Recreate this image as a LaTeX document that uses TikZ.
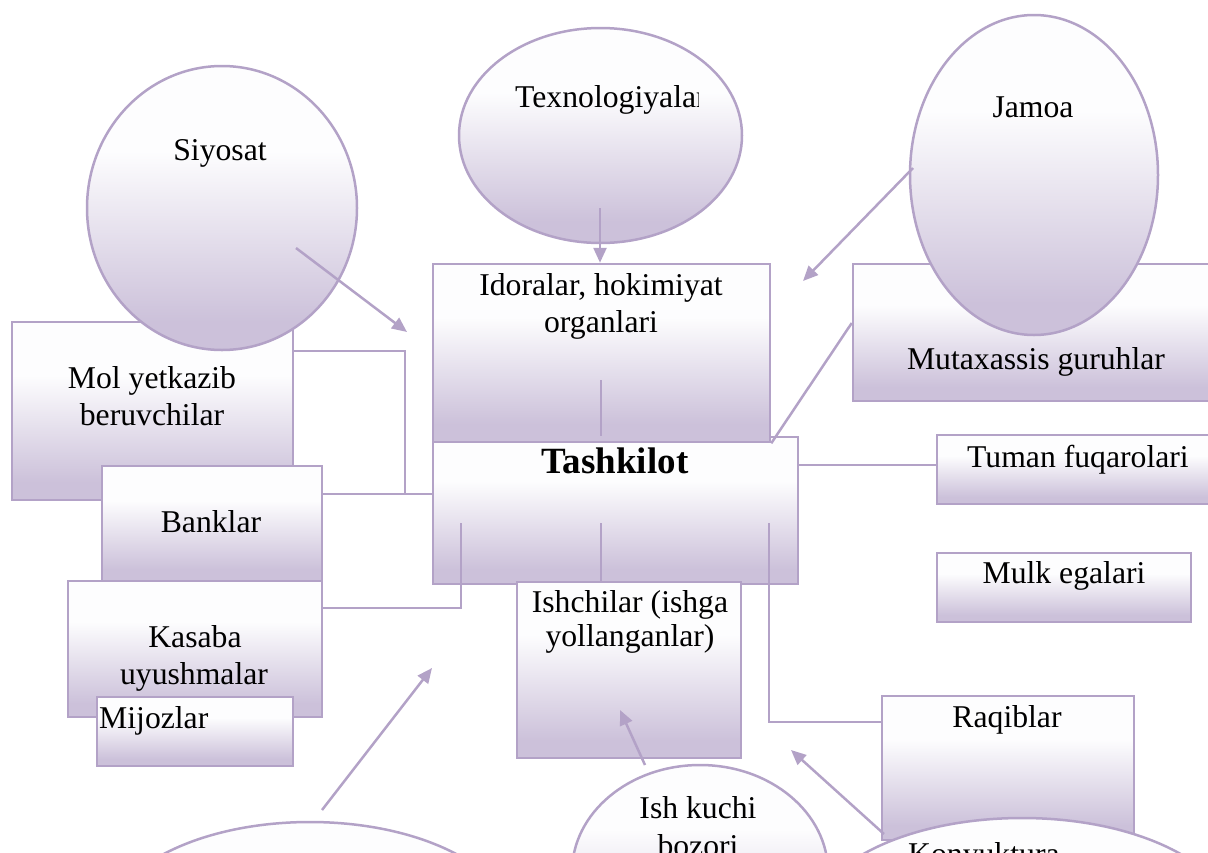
\documentclass[tikz,border=0pt]{standalone}
\usepackage{fontspec}
\setmainfont{Liberation Serif}
\usetikzlibrary{shapes.geometric,arrows.meta}
\definecolor{lavline}{HTML}{B3A2C7}
\definecolor{lavfill}{HTML}{CCC1DA}
\definecolor{topwhite}{HTML}{FDFDFE}
% light-to-lavender vertical gradient used by every shape
\pgfdeclareverticalshading{wordgrad}{100bp}{color(0bp)=(lavfill); color(30bp)=(lavfill); color(60bp)=(topwhite); color(100bp)=(topwhite)}
\tikzset{
  shapebase/.style={draw=lavline, line width=2.5pt, shade, shading=wordgrad, inner sep=0pt},
  box/.style={shapebase, rectangle},
  oval/.style={shapebase, ellipse},
  txt/.style={inner sep=0pt, anchor=base, font=\fontsize{31.7}{36.5}\selectfont},
  conn/.style={draw=lavline, line width=2.5pt},
  arr/.style={conn, -{Triangle[length=15pt,width=13pt]}},
}
\begin{document}
\begin{tikzpicture}[x=1pt,y=-1pt]
\path[use as bounding box] (0,0) rectangle (1208,852);
\clip (0,0) rectangle (1208,852);

% left column
\node[box, minimum width=281pt, minimum height=178pt] (mol) at (152.5,411) {};
\node[txt] (mol-a) at (152,388) {Mol yetkazib};
\node[txt] (mol-b) at (152,425) {beruvchilar};
\node[oval, minimum width=270pt, minimum height=284pt] (siyo) at (222,208) {};
\node[txt] (siyo-t) at (220,160) {Siyosat};
\node[box, minimum width=220pt, minimum height=115pt] (bank) at (212,523.5) {};
\node[txt] (bank-t) at (211,532) {Banklar};
\node[box, minimum width=254pt, minimum height=136pt] (kasaba) at (195,649) {};
\node[txt] (kasaba-a) at (195,647) {Kasaba};
\node[txt] (kasaba-b) at (194,684) {uyushmalar};
\node[box, minimum width=196pt, minimum height=69pt] (mijoz) at (195,731.5) {};
\node[txt, anchor=base west] (mijoz-t) at (99,728) {Mijozlar};

% centre
\node[box, minimum width=365pt, minimum height=147pt] (tash) at (615.5,510.5) {};
\node[txt, font=\fontsize{37}{42}\selectfont\bfseries] (tash-t) at (615,473) {Tashkilot};
\node[box, minimum width=337pt, minimum height=178pt] (idora) at (601.5,353) {};
\node[txt] (idora-a) at (601,295) {Idoralar, hokimiyat};
\node[txt] (idora-b) at (601,332) {organlari};
\node[box, minimum width=224pt, minimum height=176pt] (ishchi) at (629,670) {};
\node[txt] (ishchi-a) at (630,612) {Ishchilar (ishga};
\node[txt] (ishchi-b) at (630,646) {yollanganlar)};

% top
\node[oval, minimum width=283pt, minimum height=215pt] (texno) at (600.5,135.5) {};
\begin{scope}
  \clip (459,20) rectangle (698,240);
  \node[txt, anchor=base west] (texno-t) at (515,107) {Texnologiyalar};
\end{scope}

% right column
\node[box, minimum width=367pt, minimum height=137pt] (mutax) at (1036.5,332.5) {};
\node[txt] (mutax-t) at (1036,369) {Mutaxassis guruhlar};
\node[oval, minimum width=248pt, minimum height=320pt] (jamoa) at (1034,175) {};
\node[txt] (jamoa-t) at (1033,117) {Jamoa};
\node[box, minimum width=283pt, minimum height=69pt] (tuman) at (1078.5,469.5) {};
\node[txt] (tuman-t) at (1078,467) {Tuman fuqarolari};
\node[box, minimum width=254pt, minimum height=69pt] (mulk) at (1064,587.5) {};
\node[txt] (mulk-t) at (1064,583) {Mulk egalari};
\node[box, minimum width=252pt, minimum height=144pt] (raqib) at (1008,768) {};
\node[txt] (raqib-t) at (1007,727) {Raqiblar};

% bottom row
\node[oval, minimum width=424pt, minimum height=214pt] (kony) at (1022,925) {};
\node[txt, anchor=base west] (kony-t) at (908,864) {Konyuktura};
\node[oval, minimum width=256pt, minimum height=214pt] (ishk) at (700,872) {};
\node[txt] (ishk-a) at (698,818) {Ish kuchi};
\node[txt] (ishk-b) at (698,856) {bozori};
\node[oval, minimum width=410pt, minimum height=214pt] (bl) at (310,929) {};

% plain connectors
\coordinate (j1) at (405,494);
\draw[conn] (mol.east |- 0,351) -| (j1);
\draw[conn] (bank.east |- j1) -- (tash.west |- j1);
\coordinate (tk1) at (461,523);
\draw[conn] (kasaba.east |- 0,608) -| (tk1);
\coordinate (tk2) at (601,523);
\draw[conn] (tk2) -- (tk2 |- ishchi.north);
\coordinate (tk3) at (769,523);
\draw[conn] (tk3) |- (raqib.west |- 0,722);
\coordinate (id1) at (601,380);
\draw[conn] (id1) -- (id1 |- tash.north);
\draw[conn] (idora.south east) -- (mutax.west |- 0,323);
\draw[conn] (tash.east |- 0,465) -- (tuman.west |- 0,465);

% arrows from the environment ovals
\coordinate (siyo-out) at (296,248);
\coordinate (siyo-in) at (407,332);
\draw[arr] (siyo-out) -- (siyo-in);
\coordinate (texno-out) at (600,208);
\draw[arr] (texno-out) -- (texno-out |- idora.north);
\coordinate (jam-out) at (913,168);
\coordinate (jam-in) at (803,281);
\draw[arr] (jam-out) -- (jam-in);
\coordinate (ishk-out) at (645,765);
\coordinate (ishk-in) at (620,710);
\draw[arr] (ishk-out) -- (ishk-in);
\coordinate (bl-out) at (322,810);
\coordinate (bl-in) at (432,668);
\draw[arr] (bl-out) -- (bl-in);
\coordinate (kony-out) at (884,834);
\coordinate (kony-in) at (791,750);
\draw[arr] (kony-out) -- (kony-in);
\end{tikzpicture}
\end{document}
